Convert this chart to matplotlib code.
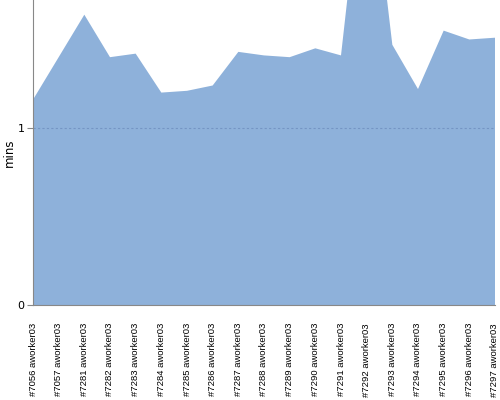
import matplotlib
matplotlib.use("Agg")
import matplotlib.pyplot as plt

# ── data ──────────────────────────────────────────────────────────────────────
builds = ["#7056", "#7057", "#7281", "#7282", "#7283", "#7284", "#7285",
          "#7286", "#7287", "#7288", "#7289", "#7290", "#7291", "#7292",
          "#7293", "#7294", "#7295", "#7296", "#7297"]
worker = "aworker03"
mins = [1.16, 1.40, 1.64, 1.40, 1.42, 1.20, 1.21, 1.24, 1.43, 1.41,
        1.40, 1.45, 1.41, 2.70, 1.47, 1.22, 1.55, 1.50, 1.51]

labels = [f"{b} {worker}" for b in builds]
x = list(range(len(labels)))

# ── figure ────────────────────────────────────────────────────────────────────
fig = plt.figure(figsize=(5, 4), dpi=100)
ax = fig.add_axes([0.066, 0.2375, 0.924, 0.7625])

ax.fill_between(x, 0, mins, color="#8eb1da", lw=0, zorder=2)
ax.axhline(1, color="#6f8fbf", lw=0.8, ls=(0, (2, 2)), alpha=0.8, zorder=3)

ax.set_xlim(0, len(labels) - 1)
ax.set_ylim(0, 1.723)
ax.set_yticks([0, 1])
ax.set_yticklabels(["0", "1"], fontsize=8)
ax.set_xticks(x)
ax.set_xticklabels(labels, rotation=90, fontsize=6.8, family="Liberation Sans",
                   va="top", ha="center")
ax.tick_params(axis="x", length=0, pad=13)
ax.tick_params(axis="y", length=4, color="#888888", pad=2)

for s in ["top", "right"]:
    ax.spines[s].set_visible(False)
for s in ["left", "bottom"]:
    ax.spines[s].set_color("#888888")
    ax.spines[s].set_zorder(4)

ax.set_ylabel("mins", fontsize=8.5)
ax.yaxis.set_label_coords(-0.036, 0.5)

fig.savefig("out.png", dpi=100)
